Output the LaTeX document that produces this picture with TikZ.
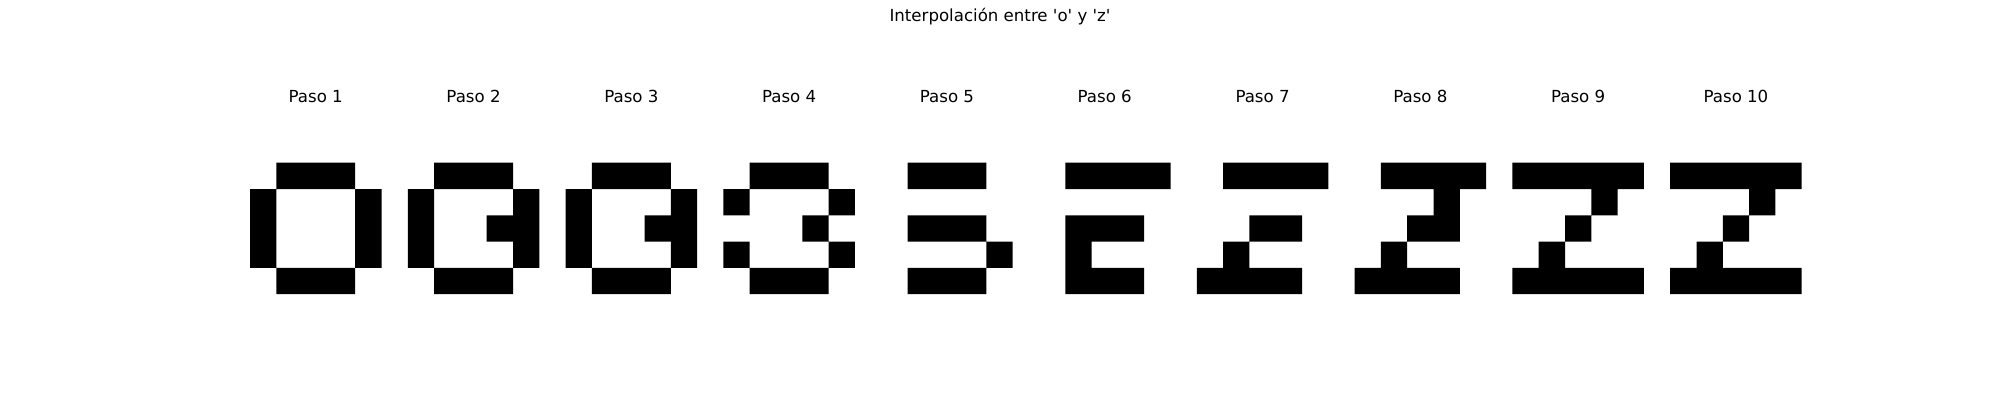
\documentclass[tikz,border=0pt]{standalone}
\usepackage{fontspec}
\setmainfont{DejaVu Sans}
\usepackage{tikz}

\tikzset{
  rotulo/.style={anchor=base, inner sep=0pt, font=\fontsize{12}{14}\selectfont},
  pixel/.style={fill=black},
}

\begin{document}
\begin{tikzpicture}[x=0.01in, y=-0.01in]
  \useasboundingbox (0,0) rectangle (2000,400);

  \node[rotulo] (titulo) at (1000,21.7) {Interpolación entre \textquotesingle o\textquotesingle{} y \textquotesingle z\textquotesingle};

  % each step: runs of black cells as col_from/col_to/row on a 5x5 grid
  \foreach \k/\celdas in {
      1/{1/3/0, 0/0/1, 4/4/1, 0/0/2, 4/4/2, 0/0/3, 4/4/3, 1/3/4},
      2/{1/3/0, 0/0/1, 4/4/1, 0/0/2, 3/4/2, 0/0/3, 4/4/3, 1/3/4},
      3/{1/3/0, 0/0/1, 4/4/1, 0/0/2, 3/4/2, 0/0/3, 4/4/3, 1/3/4},
      4/{1/3/0, 0/0/1, 4/4/1, 3/3/2, 0/0/3, 4/4/3, 1/3/4},
      5/{1/3/0, 1/3/2, 4/4/3, 1/3/4},
      6/{1/4/0, 1/3/2, 1/1/3, 1/3/4},
      7/{1/4/0, 2/3/2, 1/1/3, 0/3/4},
      8/{1/4/0, 3/3/1, 2/3/2, 1/1/3, 0/3/4},
      9/{0/4/0, 3/3/1, 2/2/2, 1/1/3, 0/4/4},
      10/{0/4/0, 3/3/1, 2/2/2, 1/1/3, 0/4/4}} {
    \node[rotulo] (paso\k) at ({315.75+157.8*(\k-1)},102) {Paso \k};
    \begin{scope}[shift={({250+157.8*(\k-1)},162.7)}, scale=26.3]
      \fill[pixel] \foreach \a/\b/\r in \celdas {(\a,\r) rectangle (\b+1,\r+1)};
    \end{scope}
  }

\end{tikzpicture}
\end{document}
